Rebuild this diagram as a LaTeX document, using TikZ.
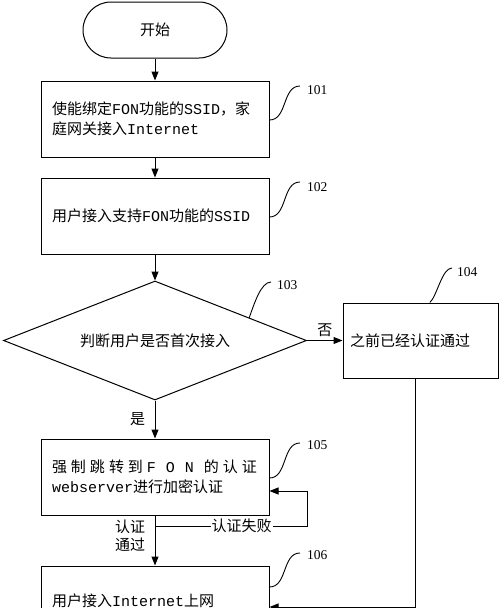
\documentclass[tikz,border=0pt]{standalone}
\usepackage{fontspec}
\setmainfont{Liberation Mono}
\newfontfamily\cjk{Noto Sans CJK SC}
\newfontfamily\digitfont{Liberation Serif}
\usetikzlibrary{shapes.geometric,arrows.meta,calc}
\newcommand\zh[1]{{\cjk #1}}
\newcommand\lsp[1]{\makebox[19pt][l]{#1}}
\begin{document}
\begin{tikzpicture}[x=1pt,y=-1pt,
  every node/.style={font=\fontsize{15}{20}\selectfont},
  box/.style={draw, line width=1pt, rectangle, minimum width=228pt, minimum height=76pt, text width=206pt, inner xsep=11pt, inner ysep=0pt, align=left},
  term/.style={draw, line width=1pt, rounded corners=28pt, minimum width=144pt, minimum height=56pt, inner sep=0pt},
  decision/.style={draw, diamond, line width=1pt, minimum width=303pt, minimum height=119pt, inner sep=0pt, aspect=2.5},
  arr/.style={line width=1pt, -{Triangle[length=9pt,width=7pt]}},
  ln/.style={line width=1pt},
  tag/.style={font=\digitfont\fontsize{13.5}{16}\selectfont, anchor=west, inner sep=0pt},
  sq/.style={line width=0.9pt, to path={.. controls +(18,0) and +(-18,0) .. (\tikztotarget)}},
  sqline/.style={line width=0.9pt},
]
\clip (0,0) rectangle (500,608);
\fill[white] (0,0) rectangle (500,608);

% nodes
\node[term] (start) at (155,30) {\zh{开始}};
\node[box] (b101) at (155,119) {\zh{使能绑定}FON\zh{功能的}SSID\zh{，家}\\\zh{庭网关接入}Internet};
\node[box] (b102) at (155,216) {\zh{用户接入支持}FON\zh{功能的}SSID};
\node[decision] (d103) at (155,340.5) {\zh{判断用户是否首次接入}};
\node[box, minimum width=155pt, minimum height=75pt, text width=141pt, inner xsep=7pt] (b104) at (420.5,340.5) {\zh{之前已经认证通过}};
\node[box] (b105) at (155,477) {\zh{\lsp{强}\lsp{制}\lsp{跳}\lsp{转}\lsp{到}}\lsp{F}\lsp{O}\lsp{N}\zh{\lsp{的}\lsp{认}证}\\webserver\zh{进行加密认证}};
\node[box] (b106) at (155,604) {\raisebox{8pt}{\zh{用户接入}Internet\zh{上网}}};

% connectors
\draw[arr] (start) -- (b101);
\draw[arr] (b101) -- (b102);
\draw[arr] (b102) -- (d103);
\draw[arr] (d103) -- node[above]{\zh{否}} (b104);
\draw[arr] (d103) -- node[left=6pt]{\zh{是}} (b105);
\draw[arr] (b105) -- (b106);

\coordinate (split) at (155,526);
\coordinate (fbcorner) at (307,526);
\coordinate (fbtop) at (307,491);
\draw[arr] (split) -- node[pos=0.57, fill=white, inner sep=1pt]{\zh{认证失败}} (fbcorner) -- (fbtop) -- (b105.east |- fbtop);
\node[align=center, font=\fontsize{15}{18}\selectfont] (lpass) at (130,536) {\zh{认证}\\\zh{通过}};

\coordinate (c1) at (415,607);
\draw[arr] (b104.south -| c1) |- (b106.east |- c1);

% reference labels
\node[tag] (t101) at (307,90) {101};
\node[tag] (t102) at (307,187) {102};
\node[tag] (t103) at (277,285) {103};
\node[tag] (t104) at (457,272) {104};
\node[tag] (t105) at (307,445) {105};
\node[tag] (t106) at (307,555) {106};

\draw[sq] (b101.east |- 0,120) to ([xshift=-7pt,yshift=4pt]t101.west);
\draw[sq] (b102.east |- 0,217) to ([xshift=-7pt,yshift=5pt]t102.west);
\draw[sq] (b105.east |- 0,478) to ([xshift=-7pt,yshift=2pt]t105.west);
\draw[sq] (b106.east |- 0,587) to ([xshift=-7pt,yshift=2pt]t106.west);
\draw[sqline] ($(d103.north)!0.62!(d103.east)$) .. controls +(5,-14) and +(-10,0) .. ([xshift=-6pt,yshift=3pt]t103.west);
\draw[sqline] ($(b104.north west)!0.56!(b104.north east)$) .. controls +(7,-6) and +(-10,0) .. ([xshift=-5pt,yshift=4pt]t104.west);
\end{tikzpicture}
\end{document}
